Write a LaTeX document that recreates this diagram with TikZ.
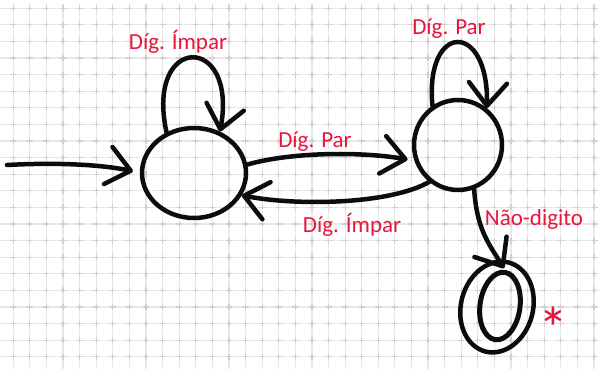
\documentclass[tikz,border=0pt]{standalone}
\usepackage{fontspec}
\setmainfont{Carlito}
\usetikzlibrary{arrows.meta,shapes.geometric,bending}
\definecolor{ink}{RGB}{12,12,12}
\definecolor{pen}{RGB}{232,22,60}
\definecolor{gridln}{RGB}{232,232,232}
\definecolor{gridmk}{RGB}{208,208,208}
\tikzset{
  gridline/.style={draw=gridln, line width=1.2pt},
  gridmark/.style={draw=gridmk, line width=1.2pt},
  state/.style={ellipse, draw=ink, line width=4.5pt, inner sep=0pt},
  edge/.style={draw=ink, line width=4.5pt, line cap=round, line join=round,
    -{Straight Barb[length=23pt,width=38pt,round]}},
  lbl/.style={text=pen, font=\fontsize{23}{26}\selectfont, inner sep=0pt, anchor=base},
}
\begin{document}
\begin{tikzpicture}[x=1pt,y=-1pt]
\useasboundingbox (0,0) rectangle (599,369);
\fill[white] (0,0) rectangle (599,369);

% squared paper
\foreach \i in {0,...,35} { \draw[gridline] ({13.3+16.59*\i},4) -- ++(0,365); }
\foreach \j in {0,...,21} { \draw[gridline] (0,{8.3+16.59*\j}) -- ++(599,0); }
\foreach \i in {0,...,35} {
  \foreach \j in {0,...,21} {
    \draw[gridmark] ({13.3+16.59*\i},{8.3+16.59*\j}) +(-3,0) -- +(3,0) +(0,-3) -- +(0,3);
  }
}

% states
\node[state, minimum width=104pt, minimum height=90pt] (A) at (194,173) {};
\node[state, minimum width=88pt, minimum height=90pt] (B) at (458,145) {};
\node[state, minimum width=72pt, minimum height=92pt, rotate=-15] (C) at (497,307) {};
\node[state, line width=5pt, minimum width=40pt, minimum height=68pt, rotate=-8] (Cin) at (500,306) {};

% initial arrow
\coordinate (init) at (7,165);
\draw[edge, shorten >=7pt] (init) .. controls +(55,-3) and +(-28,-8) .. (A.west);

% transitions
\draw[edge] (A.124) .. controls +(-22,-100) and +(21,-99) .. (A.58);
\draw[edge] (B.123) .. controls +(-8,-85) and +(4,-88) .. (B.52);
\draw[edge, shorten >=7pt] (A.9) .. controls +(45,-13) and +(-45,-10) .. (B.200);
\draw[edge] (B.232) .. controls +(-40,23) and +(50,11) .. (A.335);
\draw[edge, shorten >=2pt] (B.290) .. controls +(3,41) and +(-17,-27) .. (Cin.north);

% labels
\node[lbl] (lA) at (178,50) {Díg. Ímpar};
\node[lbl] (lB) at (449,35) {Díg. Par};
\node[lbl] (lAB) at (315,147) {Díg. Par};
\node[lbl] (lBA) at (352,232) {Díg. Ímpar};
\node[lbl] (lBC) at (534,225) {Não-digito};
\node[text=pen, font=\fontsize{60}{60}\selectfont, inner sep=0pt, anchor=base] (mark) at (553,349) {*};
\end{tikzpicture}
\end{document}
